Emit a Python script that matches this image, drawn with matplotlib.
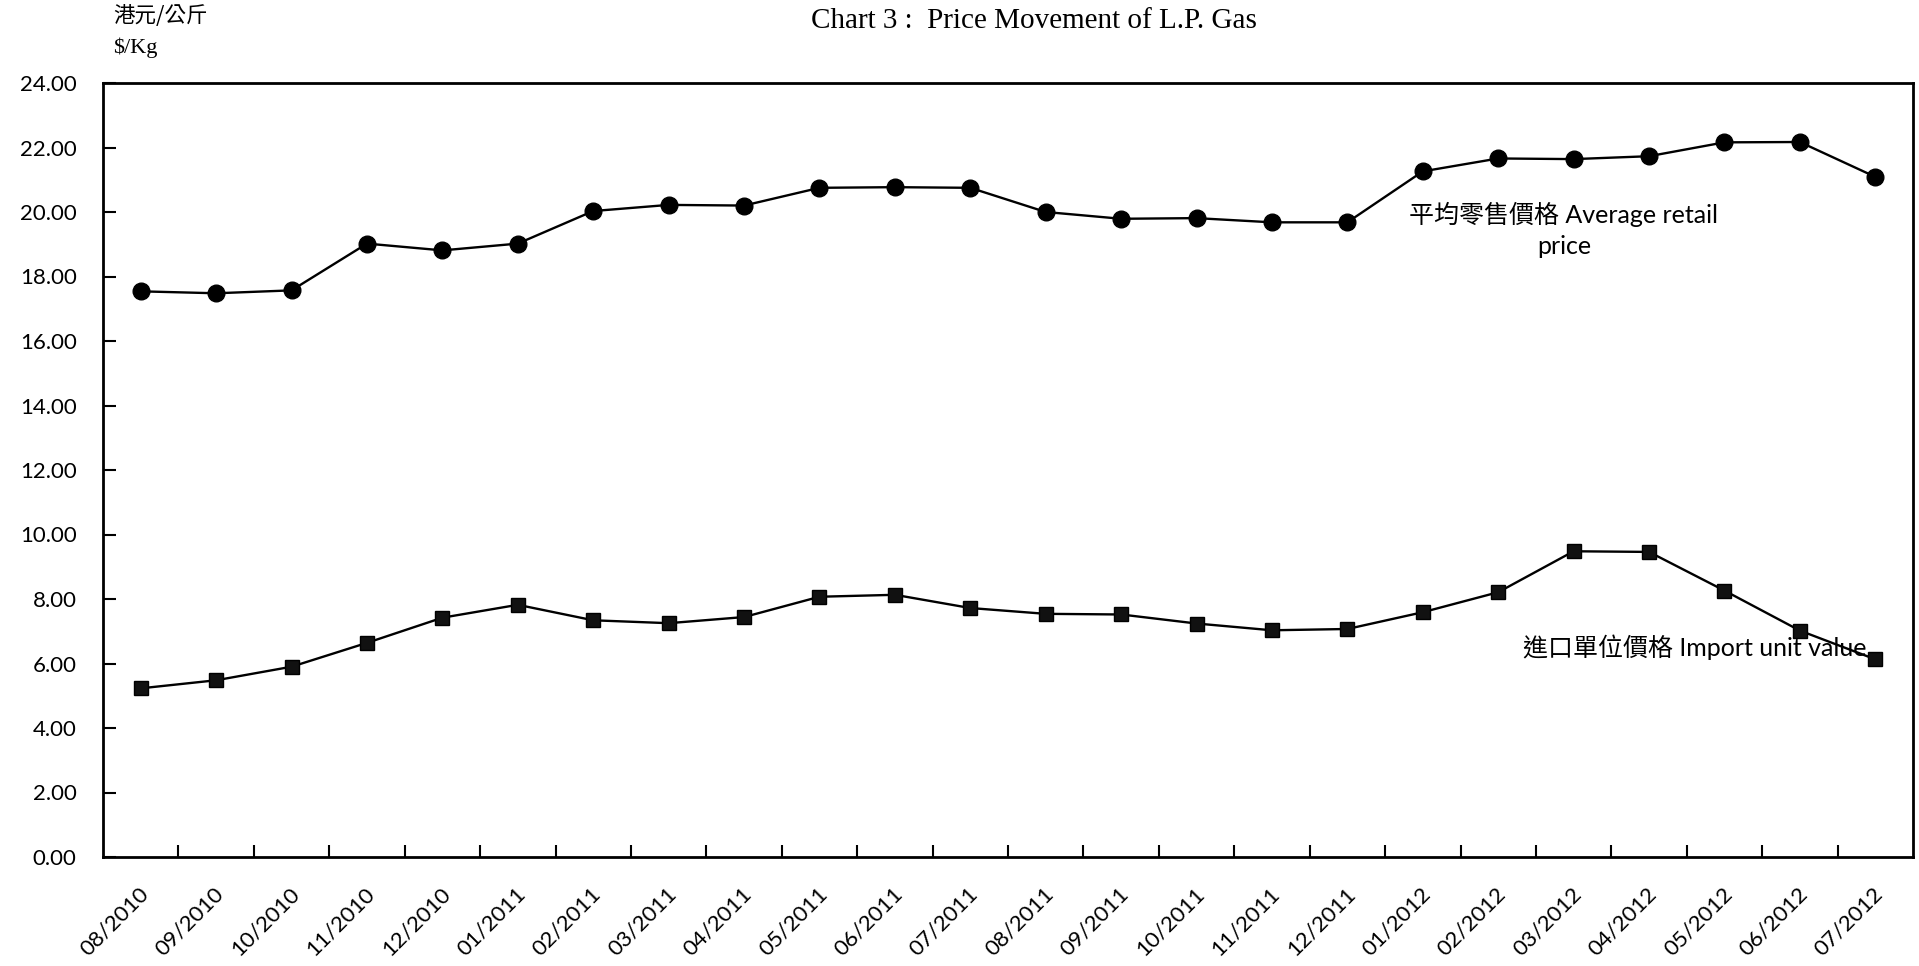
import matplotlib
matplotlib.use("Agg")
import matplotlib.pyplot as plt
import numpy as np

# monthly labels, 08/2010 .. 07/2012
months = ["08/2010", "09/2010", "10/2010", "11/2010", "12/2010",
          "01/2011", "02/2011", "03/2011", "04/2011", "05/2011", "06/2011",
          "07/2011", "08/2011", "09/2011", "10/2011", "11/2011", "12/2011",
          "01/2012", "02/2012", "03/2012", "04/2012", "05/2012", "06/2012",
          "07/2012"]

# average retail price ($/Kg)
retail = [17.54, 17.48, 17.57, 19.02, 18.81, 19.02, 20.03, 20.22, 20.20,
          20.75, 20.77, 20.75, 20.00, 19.79, 19.81, 19.68, 19.68, 21.26,
          21.66, 21.64, 21.73, 22.16, 22.17, 21.09]

# import unit value ($/Kg)
imports = [5.23, 5.48, 5.90, 6.64, 7.42, 7.82, 7.34, 7.25, 7.44, 8.07,
           8.13, 7.72, 7.54, 7.52, 7.24, 7.03, 7.07, 7.59, 8.21, 9.48,
           9.46, 8.26, 7.02, 6.13]

yticks = np.arange(0, 25, 2)

FAM = ["Lato", "Noto Sans CJK TC", "DejaVu Sans"]
plt.rcParams["font.family"] = FAM

W, H = 1919, 966
fig = plt.figure(figsize=(W / 100, H / 100), dpi=100)
fig.patch.set_facecolor("white")

# axes box in pixels: left, bottom, right, top
L, B, R, T = 103, 857, 1913, 83
ax = fig.add_axes([L / W, 1 - B / H, (R - L) / W, (B - T) / H])

x = np.arange(len(months))
ax.plot(x, retail, "-", color="black", lw=1.7, marker="o",
        markersize=12, markerfacecolor="black", markeredgecolor="black")
ax.plot(x, imports, "-", color="black", lw=1.7, marker="s",
        markersize=10, markerfacecolor="#111111", markeredgecolor="black")

ax.set_xlim(-0.5, len(months) - 0.5)
ax.set_ylim(0, 24)

# y axis: inward ticks, two decimals
ax.set_yticks(yticks)
ax.set_yticklabels([f"{v:.2f}" for v in yticks])
ax.tick_params(axis="y", direction="in", length=9, width=1.5, pad=19,
               labelsize=16, right=False)

# x axis: inward ticks at category boundaries, labels at centres
ax.set_xticks(np.arange(0.5, len(months) - 1, 1.0))
ax.set_xticklabels([])
ax.tick_params(axis="x", which="major", direction="in", length=9,
               width=1.5, top=False)
ax.set_xticks(x + 0.06, minor=True)
ax.set_xticklabels(months, minor=True, rotation=45, ha="right",
                   va="center", rotation_mode="anchor")
ax.tick_params(axis="x", which="minor", length=0, pad=24, labelsize=16)

for s in ax.spines.values():
    s.set_linewidth(2)
    s.set_color("black")

ax.text(18.87, 19.45, "平均零售價格 Average retail\nprice", ha="center",
        va="center", fontsize=18, linespacing=1.45, family=FAM)
ax.text(20.6, 6.5, "進口單位價格 Import unit value", ha="center",
        va="center", fontsize=18, family=FAM)

fig.text(1034 / W, 1 - 21 / H, "Chart 3 :  Price Movement of L.P. Gas",
         ha="center", va="center", fontsize=21, family="Liberation Serif")
fig.text(113 / W, 1 - 16 / H, "港元/公斤", ha="left", va="center",
         fontsize=15.5, family=["Noto Sans CJK TC", "DejaVu Sans"])
fig.text(113 / W, 1 - 48 / H, "$/Kg", ha="left", va="center",
         fontsize=16, family="Liberation Serif")

fig.savefig("out.png", dpi=100, facecolor="white")
